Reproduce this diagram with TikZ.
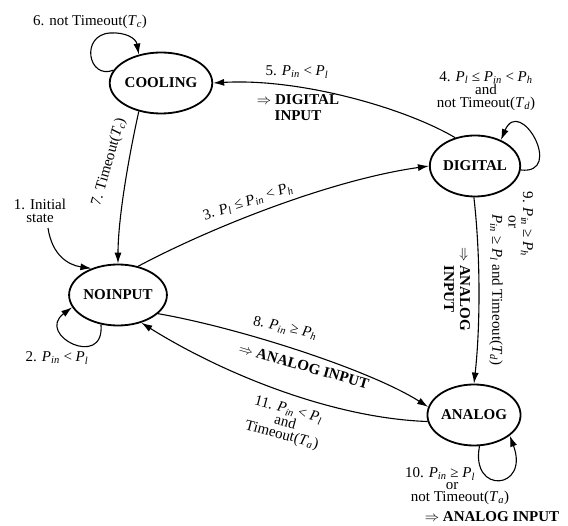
\documentclass[tikz,border=0pt]{standalone}
\usepackage{fontspec}
\setmainfont{Liberation Serif}
\usetikzlibrary{shapes.geometric,arrows.meta}
% variable names with italic letters and subscripts
\newcommand\Pv[1]{\textit{P}\textsubscript{\textit{#1}}}
\newcommand\Tv[1]{\textit{T}\textsubscript{\textit{#1}}}
\newcommand\imp{\ensuremath{\Rightarrow}}
\begin{document}
\begin{tikzpicture}[x=1pt,y=-1pt,
  state/.style={ellipse,draw,line width=1.8pt,minimum width=89pt,minimum height=61pt,
    inner sep=0pt,font=\fontsize{15}{15}\selectfont\bfseries},
  edge/.style={line width=1.1pt,-{Latex[length=11pt,width=7pt]}},
  lbl/.style={font=\fontsize{15}{13}\selectfont,align=center,inner sep=0pt},
  blbl/.style={lbl,font=\fontsize{15}{16}\selectfont\bfseries}]
\useasboundingbox (0,0) rectangle (568,526);

% states
\node[state] (cool) at (161,83)  {COOLING};
\node[state] (dig)  at (475,166) {DIGITAL};
\node[state] (noin) at (118,295) {NOINPUT};
\node[state] (ana)  at (474,415) {ANALOG};

% transitions between states
\coordinate (init) at (48,228);
\draw[edge] (init) .. controls (52,255) and (68,265) .. (noin.135);
\draw[edge] (dig.125) .. controls (405,108) and (300,78) .. (cool.east);
\draw[edge] (cool.232) .. controls (128,160) and (118,220) .. (noin.north);
\draw[edge] (noin.55) .. controls (210,228) and (330,180) .. (dig.west);
\draw[edge] (dig.268) .. controls (481,260) and (480,330) .. (ana.north);
\draw[edge] (noin.-25) .. controls (240,328) and (370,370) .. (ana.170);
\draw[edge] (ana.188) .. controls (330,418) and (220,372) .. (noin.-50);

% self loops
\coordinate (ctop) at (110,33);
\draw[edge] (cool.165) .. controls (88,80) and (80,35) .. (ctop)
  .. controls (125,32) and (136,38) .. (cool.128);
\draw[edge] (dig.-5) .. controls (565,175) and (520,95) .. (dig.45);
\draw[edge] (noin.-120) .. controls (105,370) and (35,335) .. (noin.195);
\draw[edge] (ana.-80) .. controls (470,495) and (530,490) .. (ana.-30);

% transition labels
\node[lbl] (l6) at (90,22) {6. not Timeout(\Tv{c})};
\node[lbl] (l5a) at (297,72) {5. \Pv{in} < \Pv{l}};
\node[blbl] (l5b) at (298,108) {\imp{} DIGITAL\\INPUT};
\node[lbl] (l4) at (486,91) {4. \Pv{l} ≤ \Pv{in} < \Pv{h}\\and\\not Timeout(\Tv{d})};
\node[lbl,rotate=74] (l7) at (109,162) {7. Timeout(\Tv{c})};
\node[lbl] (l1) at (40,211) {1. Initial\\state};
\node[lbl,rotate=18] (l3) at (248,202) {3. \Pv{l} ≤ \Pv{in} < \Pv{h}};
\node[lbl,rotate=-90] (l9a) at (527,224) {9. \Pv{in} ≥ \Pv{h}};
\node[lbl,rotate=-90] (l9b) at (512,222) {or};
\node[lbl,rotate=-90] (l9c) at (496,290) {\Pv{in} ≥ \Pv{l} and Timeout(\Tv{d})};
\node[blbl,rotate=-90] (l9d) at (457,289) {\imp{} ANALOG\\INPUT};
\node[lbl,rotate=-12] (l8a) at (285,328) {8. \Pv{in} ≥ \Pv{h}};
\node[blbl,rotate=-16] (l8b) at (304,366) {\imp{} ANALOG INPUT};
\node[lbl,rotate=-15] (l11) at (285,423) {11. \Pv{in} < \Pv{l}\\and\\Timeout(\Tv{a})};
\node[lbl] (l2) at (57,358) {2. \Pv{in} < \Pv{l}};
\node[lbl] (l10a) at (440,474) {10. \Pv{in} ≥ \Pv{l}};
\node[lbl] (l10b) at (452,486) {or};
\node[lbl] (l10c) at (460,498) {not Timeout(\Tv{a})};
\node[blbl] (l10d) at (492,517) {\imp{} ANALOG INPUT};
\end{tikzpicture}
\end{document}
